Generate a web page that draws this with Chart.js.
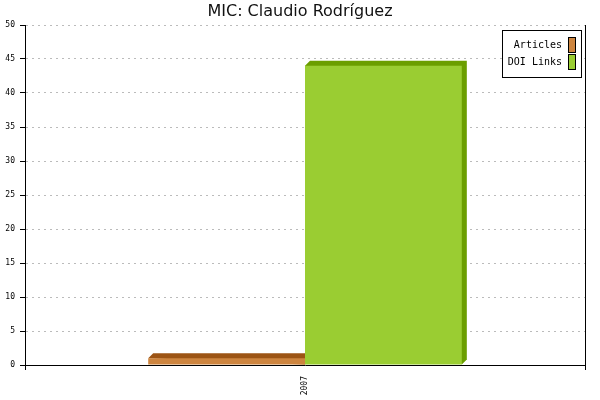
<!DOCTYPE html>
<html>
<head>
<meta charset="utf-8">
<script src="https://cdn.jsdelivr.net/npm/chart.js@4"></script>
<style>
  html, body { margin:0; padding:0; background:#fff; }
</style>
</head>
<body>
<canvas id="chart" width="600" height="400"></canvas>
<script>
// ---------------- DATA ----------------
const categories = ['2007'];
const seriesNames = ['Articles', 'DOI Links'];
const articles = [1];
const doiLinks = [44];
const yMin = 0, yMax = 50, yStep = 5;

// colours (front face / dark top+side face)
const frontColors = ['#CD853F', '#9ACD32'];
const shadeColors = ['#9C5414', '#6B9E00'];

const DEPTH = 5;
const monoFont = '"DejaVu Sans Mono", "Liberation Mono", monospace';

// draws the top + side face of each bar, behind the front faces
const bar3d = {
  id: 'bar3d',
  beforeDatasetsDraw(chart) {
    const ctx = chart.ctx;
    chart.data.datasets.forEach((ds, i) => {
      chart.getDatasetMeta(i).data.forEach(bar => {
        const { x, y, base, width } = bar.getProps(['x', 'y', 'base', 'width'], true);
        const l = x - width / 2, r = x + width / 2;
        ctx.save();
        ctx.fillStyle = shadeColors[i];
        ctx.beginPath();
        ctx.moveTo(l, y);
        ctx.lineTo(l + DEPTH, y - DEPTH);
        ctx.lineTo(r + DEPTH, y - DEPTH);
        ctx.lineTo(r + DEPTH, base - DEPTH);
        ctx.lineTo(r, base);
        ctx.closePath();
        ctx.fill();
        ctx.restore();
      });
    });
  }
};

// boxed legend inside the top-right corner of the plot
const boxLegend = {
  id: 'boxLegend',
  afterDraw(chart) {
    const ctx = chart.ctx;
    const { right, top } = chart.chartArea;
    const bx = Math.round(right) - 83, by = Math.round(top) + 5, bw = 79, bh = 47;
    ctx.save();
    ctx.fillStyle = '#fff';
    ctx.fillRect(bx + 0.5, by + 0.5, bw, bh);
    ctx.strokeStyle = '#000';
    ctx.lineWidth = 1;
    ctx.strokeRect(bx + 0.5, by + 0.5, bw, bh);
    ctx.font = '10px ' + monoFont;
    ctx.textAlign = 'right';
    ctx.textBaseline = 'middle';
    chart.data.datasets.forEach((ds, i) => {
      const cy = by + 15 + i * 17;
      ctx.fillStyle = '#000';
      ctx.fillText(ds.label, bx + 60, cy);
      ctx.fillStyle = frontColors[i];
      ctx.fillRect(bx + 66.5, cy - 7.5, 7, 15);
      ctx.strokeRect(bx + 66.5, cy - 7.5, 7, 15);
    });
    ctx.restore();
  }
};

new Chart(document.getElementById('chart'), {
  type: 'bar',
  data: {
    labels: categories,
    datasets: [
      { label: seriesNames[0], data: articles, backgroundColor: frontColors[0] },
      { label: seriesNames[1], data: doiLinks, backgroundColor: frontColors[1] }
    ]
  },
  options: {
    responsive: false,
    animation: false,
    layout: { padding: 0 },
    datasets: { bar: { categoryPercentage: 0.56, barPercentage: 1, borderWidth: 0 } },
    scales: {
      x: {
        offset: true,
        grid: { offset: true, drawOnChartArea: true, color: '#000', tickColor: '#000', tickLength: 5 },
        border: { color: '#000' },
        ticks: { font: { family: monoFont, size: 8 }, color: '#000', minRotation: 90, maxRotation: 90, padding: 6 },
        afterFit(s) { s.height = 35; }
      },
      y: {
        min: yMin, max: yMax,
        ticks: { stepSize: yStep, font: { family: monoFont, size: 8 }, color: '#000', padding: 5 },
        grid: {
          color: c => (c.tick && c.tick.value === 0) ? 'rgba(0,0,0,0)' : '#bbbbbb',
          tickColor: '#000', tickLength: 5
        },
        border: { color: '#000', dash: [2, 4] },
        afterFit(s) { s.width = 25; }
      },
      y2: {
        position: 'right',
        min: yMin, max: yMax,
        ticks: { display: false },
        grid: { display: false },
        border: { color: '#000' },
        afterFit(s) { s.width = 15; }
      }
    },
    plugins: {
      legend: { display: false },
      tooltip: { enabled: false },
      title: {
        display: true,
        text: 'MIC: Claudio Rodríguez',
        color: '#111',
        font: { family: '"DejaVu Sans", sans-serif', size: 16, weight: 'normal' },
        padding: { top: 2, bottom: 3.8 }
      }
    }
  },
  plugins: [bar3d, boxLegend]
});
</script>
</body>
</html>
